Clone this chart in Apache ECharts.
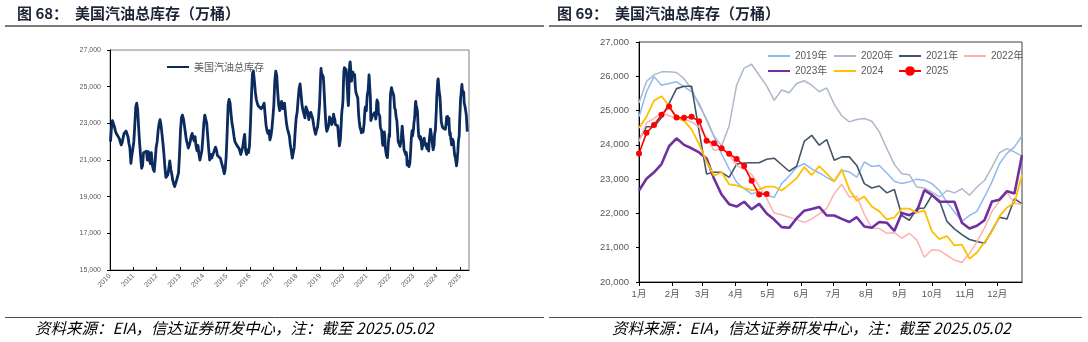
<!DOCTYPE html>
<html>
<head>
<meta charset="utf-8">
<script src="https://cdn.jsdelivr.net/npm/echarts@6/dist/echarts.min.js"></script>
<style>
  html, body { margin: 0; padding: 0; background: #ffffff; }
  #chart { width: 1088px; height: 342px; }
</style>
</head>
<body>
<div id="chart"></div>
<script>
// US total gasoline stocks, unit: 万桶

// Semi-monthly readings (24 per year), 2010-2018
const hist2010 = [22000, 22750, 23150, 23100, 22820, 22600, 22450, 22400, 22420, 22180, 22000, 21820, 21950, 22220, 22450, 22510, 22580, 22550, 22270, 21900, 21640, 20820, 21270, 21600];
const hist2011 = [22000, 22900, 23900, 24100, 23700, 22730, 21900, 21200, 20550, 20700, 21400, 21450, 21300, 21480, 21000, 21450, 21050, 20800, 21400, 20730, 20500, 20380, 21000, 21700];
const hist2012 = [22000, 22600, 23000, 23200, 22900, 22400, 21900, 21300, 20600, 20050, 20000, 20200, 20550, 20950, 20500, 20250, 19900, 19700, 19550, 19600, 19900, 20000, 20300, 21300];
const hist2013 = [22600, 23300, 23450, 23250, 22900, 22500, 22100, 21900, 21650, 21800, 22000, 22300, 22450, 22200, 22050, 22270, 21750, 21500, 21800, 21300, 21000, 20900, 21500, 22200];
const hist2014 = [23000, 23450, 23400, 23000, 22300, 21600, 21000, 21300, 21100, 21200, 21400, 21300, 21700, 21550, 21250, 21300, 21150, 21100, 20900, 20800, 20500, 20250, 20500, 21200];
const hist2015 = [22500, 24000, 24300, 24100, 23500, 23000, 22700, 22300, 22000, 21900, 21800, 21700, 21650, 21500, 21300, 21250, 21700, 22100, 22400, 21500, 21300, 21550, 21400, 21800];
const hist2016 = [23000, 24500, 25700, 25850, 25300, 24700, 24300, 24100, 23950, 23900, 24000, 23800, 23700, 23950, 24100, 23500, 22900, 22600, 22450, 22600, 22100, 22300, 22700, 23300];
const hist2017 = [24000, 25300, 25850, 25600, 24700, 24000, 23700, 24000, 24200, 23800, 23700, 24100, 23500, 23000, 22700, 22800, 22300, 21800, 21500, 21100, 21000, 21700, 22600, 23300];
const hist2018 = [23600, 24300, 24900, 25150, 24600, 24000, 23700, 23500, 23300, 23900, 24000, 23600, 23200, 23450, 23600, 23500, 23250, 22900, 22600, 22400, 22650, 22800, 23300, 24000];

// Weekly stocks, week 0 = first week of January
const stocks2019 = [24820, 25550, 25990, 25740, 25790, 25840, 25700, 25550, 25210, 24720, 24230, 23740, 23300, 22910, 22720, 22570, 22640, 22530, 22470, 22870, 23090, 23350, 23450, 23300, 23180, 23050, 22930, 23260, 23210, 23060, 23500, 23370, 23400, 23180, 22940, 22870, 22920, 23000, 22970, 22870, 22670, 22330, 22040, 21770, 21940, 22060, 22480, 22920, 23450, 23750, 23940, 24260];
const stocks2020 = [25220, 25850, 26040, 26130, 26130, 26110, 25930, 25630, 25150, 24750, 24250, 23970, 24550, 25740, 26240, 26350, 26030, 25720, 25300, 25600, 25520, 25790, 25870, 25740, 25550, 25660, 25180, 24850, 24670, 24740, 24770, 24690, 24380, 23890, 23430, 23160, 23130, 22770, 22740, 22620, 22480, 22670, 22600, 22720, 22530, 22770, 22960, 23350, 23770, 23890, 23790, 23680];
const stocks2021 = [24150, 24530, 24530, 24800, 25200, 25640, 25710, 25710, 24400, 23150, 23200, 23200, 23050, 23440, 23470, 23480, 23480, 23580, 23610, 23420, 23230, 23380, 24100, 24280, 23990, 24150, 23550, 23650, 23650, 23400, 22870, 22740, 22800, 22600, 22700, 21940, 21800, 22140, 22160, 22530, 22380, 21770, 21550, 21380, 21240, 21180, 21130, 21500, 21890, 21840, 22430, 22280];
const stocks2022 = [24100, 24640, 24770, 24950, 24850, 24760, 24740, 24670, 24520, 24200, 23840, 23880, 23710, 23400, 23280, 23140, 22800, 22440, 22010, 21960, 21890, 21820, 21740, 21840, 21990, 22150, 22580, 22850, 22480, 22500, 21980, 21570, 21560, 21420, 21440, 21280, 21420, 21220, 20720, 20940, 20920, 20780, 20640, 20570, 20830, 21170, 21570, 22060, 22360, 22600, 22300, 22260];
const stocks2023 = [22670, 23010, 23200, 23440, 23960, 24190, 24000, 23900, 23780, 23600, 23010, 22550, 22270, 22200, 22340, 22120, 22280, 22000, 21820, 21600, 21580, 21860, 22080, 22130, 22190, 21940, 21940, 21840, 21750, 21890, 21620, 21580, 21750, 21730, 21490, 22010, 21950, 22060, 22680, 22540, 22340, 22340, 22340, 21730, 21560, 21640, 21800, 22350, 22400, 22650, 22580, 23700];
const stocks2024 = [24490, 24820, 25290, 25420, 25140, 24790, 24700, 24450, 24030, 23500, 23100, 23200, 22850, 22820, 22740, 22680, 22700, 22780, 22780, 22670, 22840, 23030, 23350, 23120, 23380, 23160, 22940, 23280, 22700, 22370, 22490, 22200, 22060, 21830, 21880, 22140, 22140, 22020, 22090, 21480, 21250, 21340, 21070, 21090, 20680, 20860, 21160, 21470, 21920, 22170, 22310, 23120];
const stocks2025 = [23750, 24350, 24580, 24880, 25120, 24800, 24790, 24820, 24690, 24120, 24050, 23900, 23740, 23590, 23380, 22950, 22550, 22570];

const seasonNames = ['2019年', '2020年', '2021年', '2022年', '2023年', '2024', '2025'];
const seasonColors = ['#8FB8EE', '#ADB9CA', '#44546A', '#FFB0B0', '#7030A0', '#FFC000', '#FF0000'];
const monthLabels = ['1月', '2月', '3月', '4月', '5月', '6月', '7月', '8月', '9月', '10月', '11月', '12月'];
const monthDays = [31, 28, 31, 30, 31, 30, 31, 31, 30, 31, 30, 31];

const lineName = '美国汽油总库存';
const footerText = '资料来源：EIA，信达证券研发中心，注：截至 2025.05.02';

// ---- build series data ----
const histByYear = [
  [2010, hist2010], [2011, hist2011], [2012, hist2012], [2013, hist2013], [2014, hist2014],
  [2015, hist2015], [2016, hist2016], [2017, hist2017], [2018, hist2018]
];
const weeklyByYear = [
  [2019, stocks2019], [2020, stocks2020], [2021, stocks2021], [2022, stocks2022],
  [2023, stocks2023], [2024, stocks2024], [2025, stocks2025]
];

const longRun = [];
histByYear.forEach(([yr, vals]) => {
  vals.forEach((v, i) => longRun.push([yr + (i + 0.5) / vals.length, v]));
});
weeklyByYear.forEach(([yr, vals]) => {
  vals.forEach((v, w) => longRun.push([yr + (2 + 7 * w) / 365, v]));
});

// month starts expressed in weeks
const monthStarts = [];
let acc = 0;
monthDays.forEach(d => { monthStarts.push(acc / 7); acc += d; });

const thousands = v => String(v).replace(/\B(?=(\d{3})+(?!\d))/g, ',');
const numFont = '"Liberation Sans", Arial, "Noto Sans CJK SC", sans-serif';
const cjkFont = '"Noto Sans CJK SC", "Liberation Sans", sans-serif';
const grey = '#595959';

const seasonalSeries = weeklyByYear.map(([yr, vals], k) => {
  const isLatest = k === weeklyByYear.length - 1;
  const widths = [1.5, 1.5, 1.6, 1.5, 2.6, 1.8, 1.6];
  return {
    name: seasonNames[k],
    type: 'line',
    xAxisIndex: 1,
    yAxisIndex: 1,
    data: vals.map((v, w) => [w, v]),
    symbol: isLatest ? 'circle' : 'none',
    symbolSize: 6,
    showSymbol: isLatest,
    itemStyle: { color: seasonColors[k] },
    lineStyle: { color: seasonColors[k], width: widths[k] },
    z: 2 + k
  };
});

// legend entries show a plain line; only the 2025 entry keeps its dot
const legendItem = name => (name === seasonNames[6]
  ? { name: name, itemStyle: { opacity: 1 } }
  : { name: name });

const legendBase = {
  orient: 'vertical',
  itemWidth: 22,
  itemHeight: 12,
  itemGap: 5,
  itemStyle: { opacity: 0 },
  textStyle: { color: grey, fontSize: 10, fontFamily: numFont },
  selectedMode: false
};

const chart = echarts.init(document.getElementById('chart'), null, { renderer: 'canvas' });

chart.setOption({
  animation: false,
  backgroundColor: '#ffffff',
  grid: [
    { left: 110, right: 619, top: 50, bottom: 72, show: true, borderColor: '#808080', borderWidth: 1 },
    { left: 639, right: 66, top: 42, bottom: 60, show: true, borderColor: '#404040', borderWidth: 1 }
  ],
  legend: [
    Object.assign({}, legendBase, { data: [legendItem(lineName)], left: 161, top: 57,
      textStyle: { color: grey, fontSize: 10, fontFamily: cjkFont } }),
    Object.assign({}, legendBase, { data: [legendItem(seasonNames[0]), legendItem(seasonNames[4])], left: 762, top: 46 }),
    Object.assign({}, legendBase, { data: [legendItem(seasonNames[1]), legendItem(seasonNames[5])], left: 828, top: 46 }),
    Object.assign({}, legendBase, { data: [legendItem(seasonNames[2]), legendItem(seasonNames[6])], left: 893, top: 46 }),
    Object.assign({}, legendBase, { data: [legendItem(seasonNames[3])], left: 958, top: 46 })
  ],
  xAxis: [
    {
      type: 'value', gridIndex: 0,
      min: 2010, max: 2025.385, interval: 1,
      axisLine: { show: true, lineStyle: { color: '#000', width: 1 } },
      axisTick: { show: true, inside: true, length: 3, lineStyle: { color: '#000' } },
      splitLine: { show: false },
      axisLabel: {
        rotate: 45, fontSize: 7, color: grey, fontFamily: numFont, margin: 5,
        showMaxLabel: false,
        formatter: v => (Math.abs(v - Math.round(v)) < 1e-6 ? String(Math.round(v)) : '')
      }
    },
    {
      type: 'value', gridIndex: 1,
      min: 0, max: 51,
      axisLine: { show: true, lineStyle: { color: '#000', width: 1 } },
      axisTick: { show: true, length: 4, customValues: monthStarts, lineStyle: { color: '#000' } },
      splitLine: { show: false },
      axisLabel: {
        customValues: monthStarts,
        fontSize: 9.5, color: grey, fontFamily: numFont, margin: 8,
        formatter: v => {
          const idx = monthStarts.findIndex(m => Math.abs(m - v) < 1e-6);
          return idx >= 0 ? monthLabels[idx] : '';
        }
      }
    }
  ],
  yAxis: [
    {
      type: 'value', gridIndex: 0,
      min: 15000, max: 27000, interval: 2000,
      axisLine: { show: true, lineStyle: { color: '#000', width: 1 } },
      axisTick: { show: true, length: 3, lineStyle: { color: '#000' } },
      splitLine: { show: false },
      axisLabel: { fontSize: 7, color: grey, fontFamily: numFont, margin: 9, formatter: thousands }
    },
    {
      type: 'value', gridIndex: 1,
      min: 20000, max: 27000, interval: 1000,
      axisLine: { show: true, lineStyle: { color: '#000', width: 1 } },
      axisTick: { show: true, length: 3, lineStyle: { color: '#000' } },
      splitLine: { show: false },
      axisLabel: { fontSize: 9.5, color: grey, fontFamily: numFont, margin: 10, formatter: thousands }
    }
  ],
  series: [
    {
      name: lineName,
      type: 'line',
      xAxisIndex: 0,
      yAxisIndex: 0,
      data: longRun,
      symbol: 'none',
      showSymbol: false,
      itemStyle: { color: '#0B2A5E' },
      lineStyle: { color: '#0B2A5E', width: 2.8, join: 'round' }
    }
  ].concat(seasonalSeries),
  graphic: [
    // headings
    { type: 'text', left: 17, top: 6, style: { text: '图 68：', fill: '#1c2336', font: 'bold 15px ' + cjkFont } },
    { type: 'text', left: 75, top: 6, style: { text: '美国汽油总库存（万桶）', fill: '#1c2336', font: 'bold 15px ' + cjkFont } },
    { type: 'text', left: 557, top: 6, style: { text: '图 69：', fill: '#1c2336', font: 'bold 15px ' + cjkFont } },
    { type: 'text', left: 615, top: 6, style: { text: '美国汽油总库存（万桶）', fill: '#1c2336', font: 'bold 15px ' + cjkFont } },
    // heading rules
    { type: 'line', shape: { x1: 5, y1: 26, x2: 544, y2: 26 }, style: { stroke: '#4d4d4d', lineWidth: 1.5 } },
    { type: 'line', shape: { x1: 549, y1: 26, x2: 1082, y2: 26 }, style: { stroke: '#4d4d4d', lineWidth: 1.5 } },
    // footer rules
    { type: 'line', shape: { x1: 5, y1: 317.5, x2: 544, y2: 317.5 }, style: { stroke: '#4d4d4d', lineWidth: 1 } },
    { type: 'line', shape: { x1: 549, y1: 317.5, x2: 1082, y2: 317.5 }, style: { stroke: '#4d4d4d', lineWidth: 1 } },
    // source notes
    { type: 'text', left: 35, top: 320, style: { text: footerText, fill: '#000', font: 'italic 15.5px ' + cjkFont } },
    { type: 'text', left: 612, top: 320, style: { text: footerText, fill: '#000', font: 'italic 15.5px ' + cjkFont } }
  ]
});
</script>
</body>
</html>
